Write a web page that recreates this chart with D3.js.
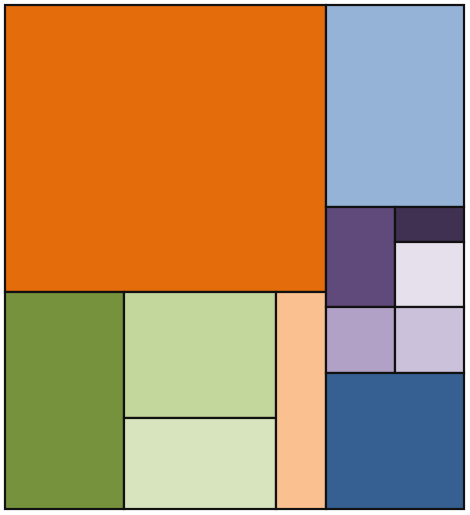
<!DOCTYPE html>
<html>
<head>
<meta charset="utf-8">
<script src="https://cdn.jsdelivr.net/npm/d3@7"></script>
<style>
  html, body { margin: 0; padding: 0; background: #ffffff; }
  svg { display: block; }
</style>
</head>
<body>
<div id="chart"></div>
<script>
// Leaf categories and values (areas)
const leafNames  = ["A", "B1", "B2a", "B2b", "B3", "C1", "C2a", "C2b1", "C2b2", "C3a", "C3b", "C4"];
const leafValues = [92127, 25823, 19152, 13832, 10850, 27876, 6900, 2415, 4485, 4554, 4554, 18768];
const leafColors = ["#e46c0a", "#76923c", "#c3d69b", "#d7e4bd", "#fac08f",
                    "#95b3d7", "#604a7b", "#403152", "#e5e0ec", "#b2a1c7", "#ccc1da", "#366092"];

// Group structure: name, parent, split direction (h = side by side, v = stacked)
const groupNames   = ["root", "left", "bottom", "greenCol", "right", "purpleGrp", "purpleCol", "lavRow"];
const groupParents = [null, "root", "left", "bottom", "root", "right", "purpleGrp", "right"];
const groupDirs    = ["h", "v", "h", "v", "v", "h", "v", "h"];
const leafParents  = ["left", "bottom", "greenCol", "greenCol", "bottom",
                      "right", "purpleGrp", "purpleCol", "purpleCol", "lavRow", "lavRow", "right"];

const W = 470, H = 515;
const margin = {left: 5, top: 5, right: 6, bottom: 6};
const iw = W - margin.left - margin.right;   // 459
const ih = H - margin.top - margin.bottom;   // 504

const rows = [];
groupNames.forEach((n, i) => rows.push({id: n, parent: groupParents[i], dir: groupDirs[i]}));
leafNames.forEach((n, i) => rows.push({id: n, parent: leafParents[i], value: leafValues[i], color: leafColors[i], order: i}));

const root = d3.stratify().id(d => d.id).parentId(d => d.parent)(rows)
  .sum(d => d.value || 0);

// order siblings by the position of their first leaf
root.eachAfter(n => {
  n.firstLeaf = n.children ? d3.min(n.children, c => c.firstLeaf) : n.data.order;
});
root.sort((a, b) => a.firstLeaf - b.firstLeaf);

const tile = (node, x0, y0, x1, y1) => {
  (node.data.dir === "h" ? d3.treemapDice : d3.treemapSlice)(node, x0, y0, x1, y1);
};

d3.treemap().size([iw, ih]).tile(tile).round(false)(root);

const svg = d3.select("#chart").append("svg")
  .attr("width", W).attr("height", H);

const g = svg.append("g").attr("transform", `translate(${margin.left},${margin.top})`);

g.selectAll("rect.leaf")
  .data(root.leaves())
  .join("rect")
  .attr("class", "leaf")
  .attr("x", d => d.x0)
  .attr("y", d => d.y0)
  .attr("width", d => d.x1 - d.x0)
  .attr("height", d => d.y1 - d.y0)
  .attr("fill", d => d.data.color)
  .attr("stroke", "#111111")
  .attr("stroke-width", 2.2);
</script>
</body>
</html>
